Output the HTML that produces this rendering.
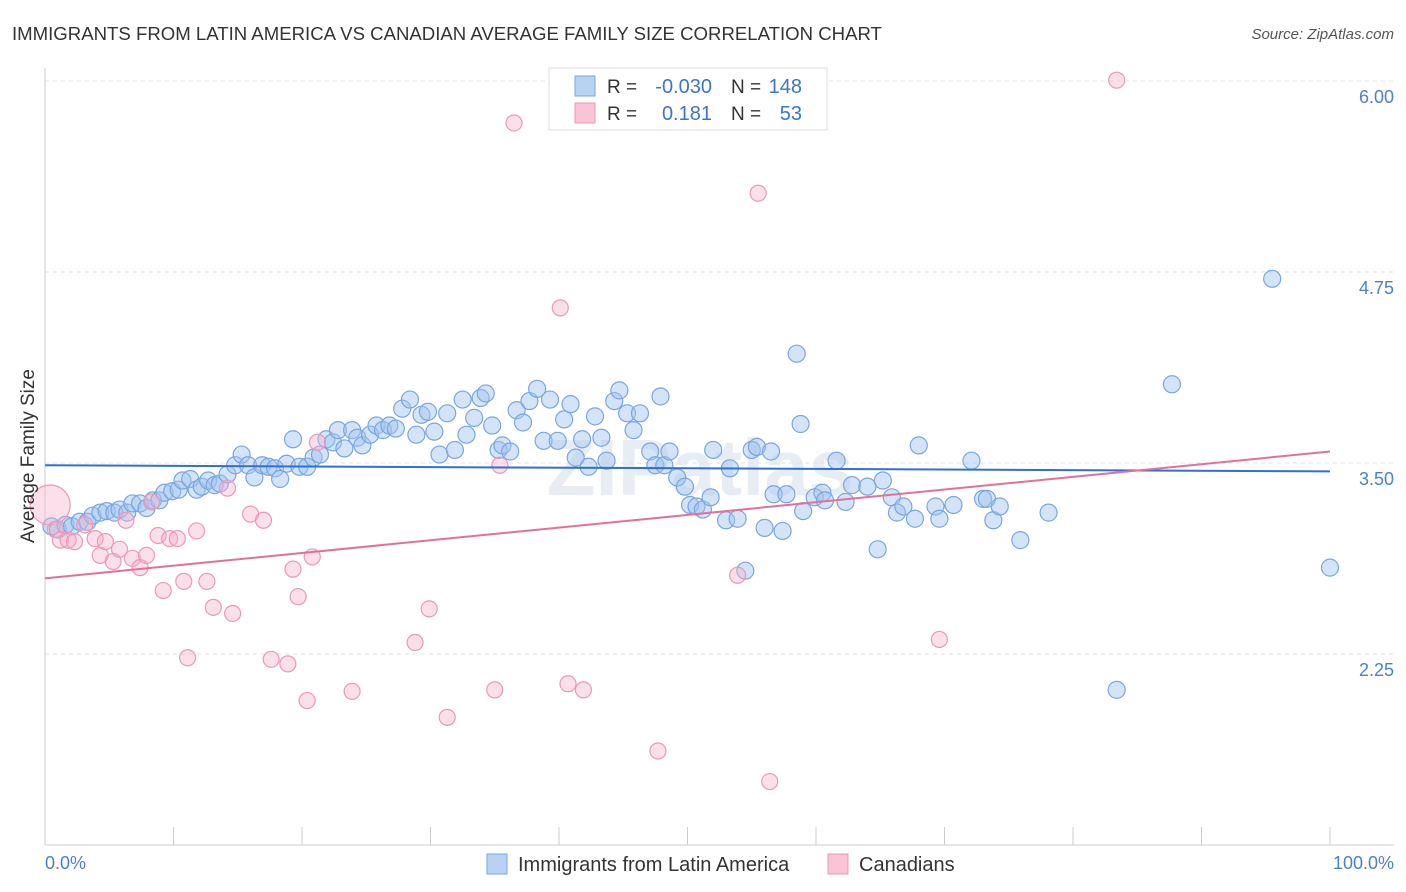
<!DOCTYPE html>
<html><head><meta charset="utf-8">
<style>
body{margin:0;background:#fff;font-family:"Liberation Sans",sans-serif;}
#wrap{position:relative;width:1406px;height:892px;overflow:hidden;}
svg text{font-family:"Liberation Sans",sans-serif;}
</style></head>
<body>
<div id="wrap">
<svg id="chart" width="1406" height="892">
<text x="12" y="40" font-size="18.6" fill="#333">IMMIGRANTS FROM LATIN AMERICA VS CANADIAN AVERAGE FAMILY SIZE CORRELATION CHART</text>
<text x="1394" y="39" font-size="15" fill="#555" font-style="italic" text-anchor="end">Source: ZipAtlas.com</text>
<text x="700" y="495" font-size="80" fill="#e8edf4" text-anchor="middle" font-weight="bold">ZIPatlas</text>
<g id="grid"></g>
<g id="axes"></g>
<g id="marks"></g>
<text transform="translate(34,456) rotate(-90)" font-size="19" fill="#333" text-anchor="middle">Average Family Size</text>
<text x="45" y="869" font-size="18" fill="#4a7fd4">0.0%</text>
<text x="1394" y="869" font-size="18" fill="#4a7fd4" text-anchor="end">100.0%</text>
<g>
<rect x="549" y="68" width="278" height="62" fill="#fff" stroke="#ddd"/>
<rect x="575" y="76" width="20" height="20" fill="#b8d2f4" stroke="#7aa6e0"/>
<rect x="575" y="103" width="20" height="20" fill="#f8c4d6" stroke="#e898b4"/>
<text x="607" y="93" font-size="19" fill="#333">R = </text><text x="712" y="93" font-size="20" fill="#3a74d0" text-anchor="end">-0.030</text>
<text x="731" y="93" font-size="19" fill="#333">N = </text><text x="802" y="93" font-size="20" fill="#3a74d0" text-anchor="end">148</text>
<text x="607" y="120" font-size="19" fill="#333">R = </text><text x="712" y="120" font-size="20" fill="#3a74d0" text-anchor="end">0.181</text>
<text x="731" y="120" font-size="19" fill="#333">N = </text><text x="802" y="120" font-size="20" fill="#3a74d0" text-anchor="end">53</text>
</g>
<g>
<rect x="487" y="854" width="20" height="20" fill="#b8d2f4" stroke="#7aa6e0"/>
<text x="518" y="871" font-size="20" fill="#333">Immigrants from Latin America</text>
<rect x="828" y="854" width="20" height="20" fill="#f8c4d6" stroke="#e898b4"/>
<text x="859" y="871" font-size="20" fill="#333">Canadians</text>
</g>
</svg>
</div>
<script>
const yTicks=[6.00,4.75,3.50,2.25];
const yTickLabels=["6.00","4.75","3.50","2.25"];
const blueX=[0.5,1.0,1.6,2.1,2.7,3.3,3.7,4.3,4.8,5.4,5.8,6.4,6.8,7.4,7.9,8.4,8.9,9.3,9.9,10.4,10.7,11.3,11.8,12.2,12.7,13.2,13.6,14.2,14.8,15.3,15.8,16.3,16.9,17.4,17.9,18.3,18.8,19.3,19.8,20.4,20.9,21.4,21.9,22.4,22.8,23.3,23.9,24.3,24.7,25.3,25.8,26.3,26.8,27.3,27.8,28.4,28.9,29.3,29.8,30.3,30.7,31.3,31.9,32.5,32.8,33.4,33.9,34.3,34.8,35.3,35.6,36.2,36.7,37.2,37.7,38.3,38.8,39.3,39.9,40.4,40.9,41.3,41.8,42.3,42.8,43.3,43.7,44.3,44.7,45.3,45.8,46.3,47.1,47.5,47.9,48.2,48.6,49.2,49.8,50.2,50.7,51.2,51.8,52.0,53.0,53.3,53.9,54.5,55.0,55.4,56.0,56.5,56.7,57.4,57.7,58.5,58.8,59.0,59.9,60.5,60.7,61.6,62.3,62.8,64.0,64.8,65.2,65.9,66.3,66.8,67.7,68.0,69.3,69.6,70.7,72.1,73.0,73.3,73.8,74.3,75.9,78.1,83.4,87.7,95.5,100];
const blueY=[3.19,3.17,3.20,3.19,3.22,3.22,3.26,3.28,3.29,3.28,3.30,3.28,3.34,3.34,3.31,3.36,3.36,3.41,3.42,3.43,3.49,3.50,3.43,3.45,3.49,3.46,3.47,3.53,3.59,3.66,3.59,3.51,3.59,3.58,3.57,3.50,3.60,3.76,3.58,3.58,3.64,3.66,3.76,3.74,3.82,3.70,3.82,3.77,3.72,3.79,3.85,3.82,3.85,3.83,3.96,4.02,3.79,3.92,3.94,3.81,3.66,3.93,3.69,4.02,3.79,3.90,4.03,4.06,3.85,3.69,3.72,3.68,3.95,3.87,4.01,4.09,3.75,4.02,3.75,3.89,3.99,3.64,3.76,3.58,3.91,3.77,3.62,4.01,4.08,3.93,3.82,3.93,3.68,3.59,4.04,3.59,3.68,3.51,3.45,3.33,3.32,3.30,3.38,3.69,3.23,3.57,3.24,2.90,3.69,3.71,3.18,3.68,3.40,3.16,3.40,4.32,3.86,3.29,3.38,3.41,3.36,3.62,3.35,3.46,3.45,3.04,3.49,3.38,3.28,3.32,3.24,3.72,3.32,3.24,3.33,3.62,3.37,3.37,3.23,3.32,3.10,3.28,2.12,4.12,4.81,2.92];
const pinkX=[0.4,0.8,1.2,1.8,2.3,3.1,3.9,4.3,4.7,5.3,5.8,6.3,6.8,7.4,7.9,8.3,8.8,9.2,9.7,10.3,10.8,11.1,11.8,12.6,13.1,14.2,14.6,16.0,17.0,17.6,18.9,19.3,19.7,20.4,20.8,21.2,23.9,28.8,29.9,31.3,35.0,35.4,36.5,40.1,40.7,41.9,47.7,53.9,55.5,56.4,69.6,83.4];
const pinkY=[3.33,3.17,3.10,3.10,3.09,3.20,3.11,3.00,3.09,2.96,3.04,3.23,2.98,2.92,3.00,3.35,3.13,2.77,3.11,3.11,2.83,2.33,3.16,2.83,2.66,3.44,2.62,3.27,3.23,2.32,2.29,2.91,2.73,2.05,2.99,3.74,2.11,2.43,2.65,1.94,2.12,3.59,5.83,4.62,2.16,2.12,1.72,2.87,5.37,1.52,2.45,6.11];
const blueTrend=[3.59,3.55];
const pinkTrend=[2.85,3.68];
const NS="http://www.w3.org/2000/svg";
const X0=45,X1=1330;
function sx(p){return X0+(X1-X0)*p/100;}
function sy(v){return 479-(v-3.5)*152.8;}
function mk(tag,attrs,parent){const e=document.createElementNS(NS,tag);for(const k in attrs)e.setAttribute(k,attrs[k]);parent.appendChild(e);return e;}
const grid=document.getElementById('grid'),axes=document.getElementById('axes'),marks=document.getElementById('marks');
yTicks.forEach((t,i)=>{
 const l=mk('line',{x1:45,x2:1394,y1:sy(t)-16,y2:sy(t)-16,stroke:'#e2e2e2','stroke-dasharray':'4,4'},grid);
 
 
 const tx=mk('text',{x:1394,y:sy(t)+6,'font-size':18,fill:'#4a7fd4','text-anchor':'end'},axes);
 tx.textContent=yTickLabels[i];
 
 
});
const ya=mk('line',{x1:45,x2:45,y1:68,y2:845,stroke:'#ccc'},axes);


const xa=mk('line',{x1:45,x2:1394,y1:845,y2:845,stroke:'#ccc'},axes);


for(let i=0;i<=10;i++){
 const t=mk('line',{x1:sx(i*10),x2:sx(i*10),y1:827,y2:845,stroke:'#ccc'},axes);
 
 
}
blueX.forEach((x,i)=>{
 const c=mk('circle',{cx:sx(x),cy:sy(blueY[i]),r:8.5,fill:'rgba(160,196,240,0.45)',stroke:'#7aa6e0','stroke-width':1.2},marks);
 
 
});
pinkX.forEach((x,i)=>{
 const c=mk('circle',{cx:sx(x),cy:sy(pinkY[i]),r:i===0?20:8,fill:'rgba(246,176,202,0.4)',stroke:'#ec98b6','stroke-width':1.2},marks);
 
 
});
const bl=mk('line',{x1:sx(0),x2:sx(100),y1:sy(blueTrend[0]),y2:sy(blueTrend[1]),stroke:'#2f6fd6','stroke-width':2},marks);


const pl=mk('line',{x1:sx(0),x2:sx(100),y1:sy(pinkTrend[0]),y2:sy(pinkTrend[1]),stroke:'#e66f98','stroke-width':2},marks);


</script>
</body></html>
